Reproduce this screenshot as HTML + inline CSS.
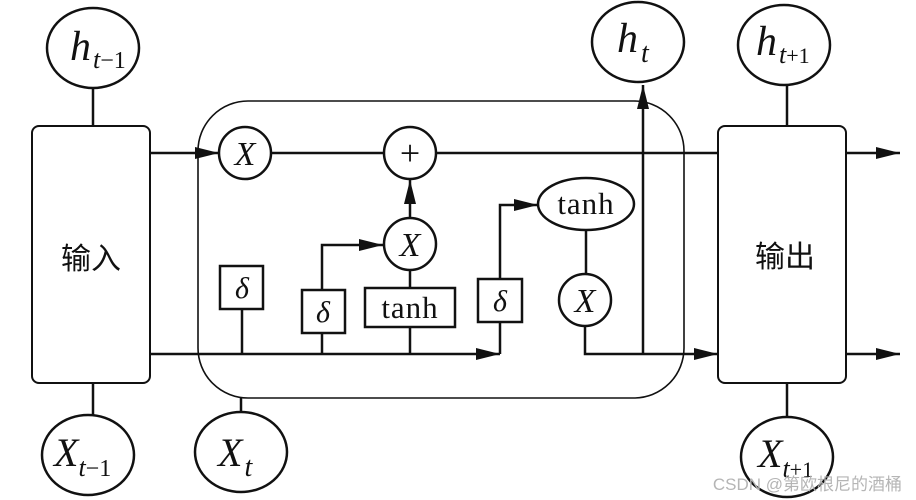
<!DOCTYPE html>
<html><head><meta charset="utf-8"><style>
html,body{margin:0;padding:0;background:#fff;}
svg{display:block;}
.t{font-family:"Liberation Serif",serif;font-style:italic;fill:#111;}
.r{font-family:"Liberation Serif",serif;fill:#111;}
.c{font-family:"Liberation Sans","Noto Sans CJK SC",sans-serif;fill:#111;}
</style></head><body>
<svg width="916" height="500" viewBox="0 0 916 500" xmlns="http://www.w3.org/2000/svg">
<defs>
<marker id="b" viewBox="0 0 20 10" refX="20" refY="5" markerWidth="24" markerHeight="12" markerUnits="userSpaceOnUse" orient="auto"><path d="M0,0 L20,5 L0,10 z" fill="#111"/></marker></defs>
<g stroke="#111" stroke-width="2.5" fill="none">
<rect x="198" y="101" width="486" height="297" rx="50" stroke-width="1.6"/>
<line x1="93" y1="88" x2="93" y2="126"/>
<rect x="32" y="126" width="118" height="257" rx="7" stroke-width="2"/>
<line x1="93" y1="383" x2="93" y2="416"/>
<line x1="241" y1="398" x2="241" y2="412"/>
<line x1="787" y1="85" x2="787" y2="126"/>
<rect x="718" y="126" width="128" height="257" rx="7" stroke-width="2"/>
<line x1="787" y1="383" x2="787" y2="416"/>
<line x1="150" y1="153" x2="219" y2="153" marker-end="url(#b)"/>
<line x1="271" y1="153" x2="384" y2="153"/>
<line x1="436" y1="153" x2="718" y2="153"/>
<line x1="846" y1="153" x2="900" y2="153" marker-end="url(#b)"/>
<line x1="150" y1="354" x2="500" y2="354" marker-end="url(#b)"/>
<line x1="846" y1="354" x2="900" y2="354" marker-end="url(#b)"/>
<polyline points="585,326 585,354 718,354" marker-end="url(#b)"/>
<line x1="643" y1="354" x2="643" y2="85" marker-end="url(#b)"/>
<line x1="242" y1="354" x2="242" y2="309"/>
<polyline points="322,354 322,333"/>
<polyline points="322,290 322,245 383,245" marker-end="url(#b)"/>
<line x1="410" y1="354" x2="410" y2="327"/>
<line x1="410" y1="288" x2="410" y2="270"/>
<line x1="410" y1="218" x2="410" y2="180" marker-end="url(#b)"/>
<polyline points="500,354 500,322"/>
<polyline points="500,279 500,205 538,205" marker-end="url(#b)"/>
<line x1="586" y1="230" x2="586" y2="274"/>
<g fill="#fff">
<ellipse cx="93" cy="48" rx="46" ry="40"/>
<ellipse cx="88" cy="455" rx="46" ry="40"/>
<ellipse cx="241" cy="452" rx="46" ry="40"/>
<ellipse cx="638" cy="42" rx="46" ry="40"/>
<ellipse cx="784" cy="45" rx="46" ry="40"/>
<ellipse cx="787" cy="457" rx="46" ry="40"/>
<circle cx="245" cy="153" r="26"/>
<circle cx="410" cy="153" r="26"/>
<circle cx="410" cy="244" r="26"/>
<circle cx="585" cy="300" r="26"/>
<ellipse cx="586" cy="204" rx="48" ry="26"/>
<rect x="220" y="266" width="43" height="43"/>
<rect x="302" y="290" width="43" height="43"/>
<rect x="365" y="288" width="90" height="39"/>
<rect x="478" y="279" width="44" height="43"/>
</g>
</g>
<g>
<text class="t" x="70" y="60" font-size="42">h<tspan dx="2" dy="8" font-size="26">t</tspan><tspan class="r" font-style="normal" font-size="24">−1</tspan></text>
<text class="t" x="54" y="466" font-size="40">X<tspan dx="0" dy="10" font-size="26">t</tspan><tspan font-style="normal" font-size="24">−1</tspan></text>
<text class="t" x="218" y="466" font-size="40">X<tspan dx="2" dy="10" font-size="28">t</tspan></text>
<text class="t" x="617" y="52" font-size="42">h<tspan dx="3" dy="10" font-size="28">t</tspan></text>
<text class="t" x="756" y="55" font-size="42">h<tspan dx="2" dy="8" font-size="26">t</tspan><tspan font-style="normal" font-size="22">+1</tspan></text>
<text class="t" x="758" y="467" font-size="40">X<tspan dx="0" dy="10" font-size="26">t</tspan><tspan font-style="normal" font-size="22">+1</tspan></text>
<text class="t" x="245" y="165" font-size="34" text-anchor="middle">X</text>
<text class="r" x="410" y="165" font-size="36" text-anchor="middle">+</text>
<text class="t" x="410" y="256" font-size="34" text-anchor="middle">X</text>
<text class="t" x="585" y="312" font-size="34" text-anchor="middle">X</text>
<text class="r" x="586" y="214" font-size="31" text-anchor="middle" letter-spacing="1">tanh</text>
<text class="r" x="410" y="318" font-size="31" text-anchor="middle" letter-spacing="1">tanh</text>
<text class="t" x="242" y="298" font-size="30" text-anchor="middle">δ</text>
<text class="t" x="323" y="322" font-size="30" text-anchor="middle">δ</text>
<text class="t" x="500" y="311" font-size="30" text-anchor="middle">δ</text>
<text class="c" x="91" y="269" font-size="30" text-anchor="middle">输入</text>
<text class="c" x="785" y="267" font-size="30" text-anchor="middle">输出</text>
<text class="c" x="902" y="490" font-size="17" text-anchor="end" style="fill:#b5b5b5">CSDN @第欧根尼的酒桶</text>
</g>
</svg>
</body></html>
